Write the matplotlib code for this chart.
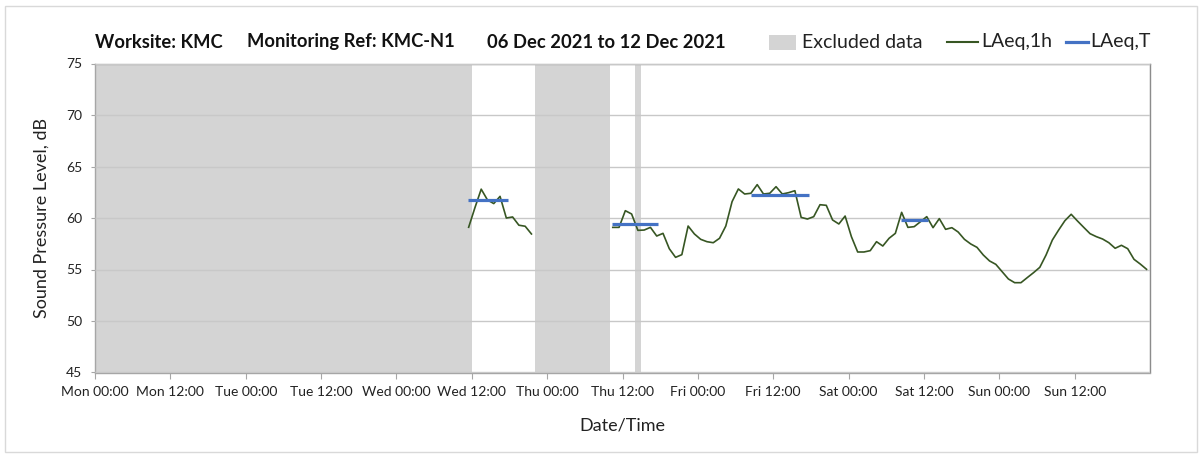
import matplotlib
matplotlib.use("Agg")
import matplotlib.pyplot as plt
from matplotlib.patches import Rectangle
from matplotlib.lines import Line2D
import numpy as np

plt.rcParams['font.family'] = ['Lato', 'DejaVu Sans']

# ---- data (hours since Mon 06 Dec 2021 00:00) ----
tick_labels = ["Mon 00:00", "Mon 12:00", "Tue 00:00", "Tue 12:00", "Wed 00:00",
               "Wed 12:00", "Thu 00:00", "Thu 12:00", "Fri 00:00", "Fri 12:00",
               "Sat 00:00", "Sat 12:00", "Sun 00:00", "Sun 12:00"]

excluded_start = [0, 70, 86]
excluded_end = [60, 82, 87]

seg1_start_hour = 59.5
seg1_laeq1h = [59.1, 61.0, 62.8, 61.75, 61.4, 62.1, 60.0, 60.1, 59.3, 59.2, 58.45]

seg2_start_hour = 82.45
seg2_laeq1h = [59.09, 59.09, 60.71, 60.39, 58.80, 58.83, 59.09, 58.25, 58.51, 57.02,
               56.18, 56.44, 59.22, 58.45, 57.93, 57.70, 57.60, 58.03, 59.22, 61.59,
               62.82, 62.33, 62.40, 63.24, 62.33, 62.40, 63.04, 62.33, 62.46, 62.65,
               60.06, 59.90, 60.13, 61.29, 61.23, 59.81, 59.42, 60.19, 58.19, 56.70,
               56.70, 56.83, 57.70, 57.28, 58.03, 58.51, 60.55, 59.09, 59.16, 59.64,
               60.13, 59.06, 59.94, 58.90, 59.06, 58.64, 57.93, 57.48, 57.15, 56.41,
               55.83, 55.50, 54.79, 54.08, 53.72, 53.72, 54.21, 54.69, 55.21, 56.41,
               57.86, 58.83, 59.74, 60.36, 59.71, 59.09, 58.48, 58.19, 57.96, 57.60,
               57.06, 57.35, 57.02, 55.99, 55.53, 55.02]

laeqT_start = [59.4, 82.4, 104.5, 128.3]
laeqT_end = [65.8, 89.7, 113.7, 132.7]
laeqT_value = [61.7, 59.45, 62.23, 59.77]

title_parts = ["Worksite: KMC", "Monitoring Ref: KMC-N1", "06 Dec 2021 to 12 Dec 2021"]
legend_labels = ["Excluded data", "LAeq,1h", "LAeq,T"]

# ---- figure ----
W, H = 1203, 457
fig = plt.figure(figsize=(W / 100, H / 100), dpi=100)
ax = fig.add_axes([95 / W, 1 - 372.5 / H, (1150 - 95) / W, (372.5 - 63.5) / H])

# outer chart border
fig.patches.append(Rectangle((5 / W, 5 / H), (W - 11) / W, (H - 11) / H,
                             transform=fig.transFigure, fill=False,
                             edgecolor='#D9D9D9', linewidth=1.0))

gray = '#D4D4D4'
for s, e in zip(excluded_start, excluded_end):
    ax.axvspan(s, e, facecolor=gray, edgecolor='none', zorder=0)

green = '#375623'
blue = '#4472C4'
x1 = seg1_start_hour + np.arange(len(seg1_laeq1h))
x2 = seg2_start_hour + np.arange(len(seg2_laeq1h))
ax.plot(x1, seg1_laeq1h, color=green, lw=1.2, zorder=3)
ax.plot(x2, seg2_laeq1h, color=green, lw=1.2, zorder=3)
for s, e, v in zip(laeqT_start, laeqT_end, laeqT_value):
    ax.plot([s, e], [v, v], color=blue, lw=2.3, solid_capstyle='butt', zorder=4)

ax.set_xlim(0, 168)
ax.set_ylim(45, 75)
ax.set_yticks(np.arange(45, 76, 5))
ax.set_xticks(np.arange(0, 168, 12))
ax.set_xticklabels(tick_labels)
ax.set_xticks(np.arange(0, 169, 24), minor=True)

ax.grid(False)
ax.yaxis.grid(True, color='#C8C8C8', lw=1.0, zorder=1)
ax.xaxis.grid(True, which='minor', color='#D0D0D0', lw=1.0, zorder=1)
ax.set_axisbelow(False)

for side in ['left', 'bottom', 'top', 'right']:
    ax.spines[side].set_color('#A6A6A6')
    ax.spines[side].set_linewidth(1.0)
ax.spines['right'].set_color('#8C8C8C')

ax.tick_params(axis='y', length=3, color='#A6A6A6', labelsize=10, pad=6, labelcolor='#222222')
ax.tick_params(axis='x', which='major', length=4, color='#A6A6A6', labelsize=10, pad=6, labelcolor='#222222')
ax.tick_params(axis='x', which='minor', length=0)

ax.set_ylabel("Sound Pressure Level, dB", fontsize=13, labelpad=12, color='#222222')
ax.set_xlabel("Date/Time", fontsize=13, labelpad=14, color='#222222')

ty = 1 - 42 / H
for xp, txt in zip([95, 247, 487], title_parts):
    fig.text(xp / W, ty, txt, fontsize=13.2, fontweight='bold',
             va='center', ha='left', color='#111111')

# legend (manual, figure coords)
ly = 1 - 42 / H
fig.patches.append(Rectangle((769 / W, 1 - 50 / H), 27 / W, 15 / H,
                             transform=fig.transFigure, facecolor=gray, edgecolor='none'))
fig.text(802 / W, ly, legend_labels[0], fontsize=14, va='center', ha='left', color='#222222')
fig.lines.append(Line2D([947 / W, 978 / W], [ly, ly], transform=fig.transFigure,
                        color=green, lw=1.5))
fig.text(981 / W, ly, legend_labels[1], fontsize=14, va='center', ha='left', color='#222222')
fig.lines.append(Line2D([1066 / W, 1088 / W], [ly, ly], transform=fig.transFigure,
                        color=blue, lw=2.3))
fig.text(1090 / W, ly, legend_labels[2], fontsize=14, va='center', ha='left', color='#222222')

fig.savefig("out.png", dpi=100)
